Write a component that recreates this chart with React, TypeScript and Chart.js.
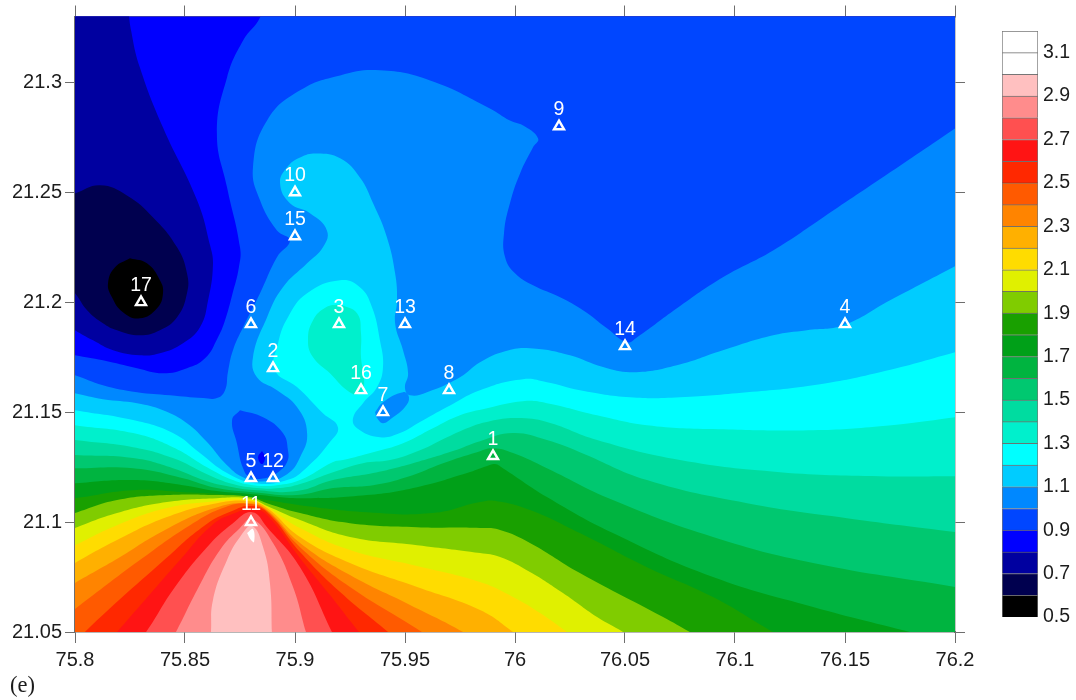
import React, { useEffect, useRef } from "react";
import { Chart, registerables } from "chart.js";

Chart.register(...registerables);

type Pt = [number, number];

const xTicks = [75.8, 75.85, 75.9, 75.95, 76, 76.05, 76.1, 76.15, 76.2];
const yTicks = [21.05, 21.1, 21.15, 21.2, 21.25, 21.3];
const legendTicks = [0.5, 0.7, 0.9, 1.1, 1.3, 1.5, 1.7, 1.9, 2.1, 2.3, 2.5, 2.7, 2.9, 3.1];

const stationIds = ["1", "2", "3", "4", "5", "6", "7", "8", "9", "10", "11", "12", "13", "14", "15", "16", "17"];
const stationLon = [75.99, 75.89, 75.92, 76.15, 75.88, 75.88, 75.94, 75.97, 76.02, 75.9, 75.88, 75.89, 75.95, 76.05, 75.9, 75.93, 75.83];
const stationLat = [21.13, 21.17, 21.19, 21.19, 21.12, 21.19, 21.15, 21.16, 21.28, 21.25, 21.1, 21.12, 21.19, 21.18, 21.23, 21.16, 21.2];

// colour of each 0.1 class, lowest (0.5–0.6) to highest (3.1–3.2)
const classColors = [
  "#000000", "#00004f", "#0000a0", "#0000ff", "#0046ff", "#0088ff", "#00ccff", "#00ffff", "#00f0cc",
  "#00dca0", "#00c870", "#00b440", "#00a018", "#19a000", "#80cc00", "#e0f000", "#ffdc00", "#ffb000",
  "#ff8400", "#ff5a00", "#ff2800", "#ff1414", "#ff5050", "#ff8c8c", "#ffc0c0", "#ffffff", "#ffffff",
];
const classFloors = [0.5, 0.6, 0.7, 0.8, 0.9, 1.0, 1.1, 1.2, 1.3, 1.4, 1.5, 1.6, 1.7, 1.8, 1.9, 2.0, 2.1, 2.2, 2.3, 2.4, 2.5, 2.6, 2.7, 2.8, 2.9, 3.0, 3.1];

const lowerRight: Pt = [76.2068, 21.0418];
const lowerLeft: Pt = [75.7932, 21.0418];

const wholeField: Pt[] = [[75.78, 21.03], [76.22, 21.03], [76.22, 21.35], [75.78, 21.35]];

const below08: Pt[] = [[75.8241, 21.335], [75.8255, 21.3236], [75.8295, 21.3068], [75.84, 21.2795], [75.8555, 21.2464], [75.8614, 21.2259], [75.8627, 21.2168], [75.8605, 21.2009], [75.8568, 21.1886], [75.8491, 21.1814], [75.8386, 21.1768], [75.8295, 21.1759], [75.8173, 21.1782], [75.8082, 21.1827], [75.8, 21.1873], [75.7932, 21.1918], [75.784, 21.2464], [75.784, 21.335]];
const below07: Pt[] = [[75.7932, 21.2473], [75.8, 21.2495], [75.8114, 21.2532], [75.8236, 21.2486], [75.8355, 21.2386], [75.8464, 21.225], [75.8509, 21.2132], [75.8509, 21.2041], [75.8464, 21.1932], [75.8386, 21.1873], [75.8295, 21.185], [75.8191, 21.1873], [75.8127, 21.1905], [75.8055, 21.1964], [75.8, 21.2041], [75.7932, 21.2109]];
const below06: Pt[] = [[75.825, 21.22], [75.8327, 21.2177], [75.8386, 21.21], [75.84, 21.2041], [75.8373, 21.1973], [75.8295, 21.1927], [75.8218, 21.1955], [75.8168, 21.2023], [75.815, 21.2086], [75.8182, 21.2159], [75.825, 21.22]];

const above09: Pt[] = [[75.8841, 21.335], [75.8841, 21.3295], [75.8764, 21.3191], [75.8691, 21.3023], [75.8645, 21.2768], [75.8691, 21.2523], [75.875, 21.225], [75.8745, 21.2159], [75.8714, 21.2032], [75.8682, 21.1918], [75.865, 21.1841], [75.8591, 21.1745], [75.8509, 21.17], [75.84, 21.1677], [75.8282, 21.17], [75.8127, 21.1736], [75.8, 21.1759], [75.7932, 21.1777], lowerLeft, lowerRight, [76.2068, 21.335]];
const above10: Pt[] = [[75.7932, 21.1686], [75.8, 21.1668], [75.8127, 21.1623], [75.8282, 21.1591], [75.8432, 21.1577], [75.8582, 21.1564], [75.8645, 21.1564], [75.8682, 21.16], [75.8695, 21.1682], [75.8718, 21.1782], [75.8764, 21.1886], [75.8841, 21.2041], [75.8918, 21.2205], [75.8977, 21.2282], [75.8918, 21.2327], [75.8841, 21.2464], [75.8809, 21.2614], [75.8873, 21.2827], [75.9023, 21.2964], [75.9205, 21.3032], [75.9386, 21.3055], [75.9614, 21.3009], [75.9886, 21.2882], [75.9977, 21.2827], [76.0045, 21.28], [76.0105, 21.2745], [76.0082, 21.2705], [76.0023, 21.2586], [75.9977, 21.245], [75.995, 21.2314], [75.9955, 21.2205], [76.0, 21.2132], [76.0082, 21.2077], [76.0205, 21.2023], [76.0309, 21.1964], [76.0418, 21.1882], [76.0509, 21.1818], [76.0555, 21.1841], [76.0736, 21.1973], [76.0945, 21.2114], [76.1173, 21.2236], [76.14, 21.2386], [76.1705, 21.2591], [76.2, 21.2791], [76.2068, 21.2836], lowerRight, lowerLeft];
const above11: Pt[] = [[75.7932, 21.16], [75.8, 21.1586], [75.8127, 21.1559], [75.8282, 21.1541], [75.84, 21.1509], [75.8509, 21.145], [75.86, 21.1364], [75.8691, 21.1259], [75.8773, 21.12], [75.8864, 21.1186], [75.8964, 21.1218], [75.9023, 21.1295], [75.9055, 21.1405], [75.9009, 21.1523], [75.8918, 21.16], [75.8827, 21.1659], [75.8809, 21.175], [75.8873, 21.1932], [75.8945, 21.2068], [75.9055, 21.2177], [75.9127, 21.225], [75.9145, 21.2327], [75.9068, 21.2405], [75.8977, 21.245], [75.8932, 21.2541], [75.8964, 21.2614], [75.9023, 21.2659], [75.91, 21.2677], [75.9205, 21.2655], [75.9295, 21.2568], [75.9355, 21.245], [75.9418, 21.2295], [75.9455, 21.2132], [75.9464, 21.2009], [75.9455, 21.1905], [75.9491, 21.1782], [75.9514, 21.1677], [75.95, 21.1609], [75.9523, 21.1577], [75.96, 21.1591], [75.975, 21.1659], [75.9841, 21.1727], [75.9955, 21.1777], [76.0068, 21.1791], [76.025, 21.1759], [76.04, 21.1705], [76.0536, 21.1682], [76.0736, 21.1714], [76.0945, 21.1782], [76.1173, 21.185], [76.1327, 21.1873], [76.1491, 21.1895], [76.1705, 21.2009], [76.2, 21.2164], [76.2068, 21.22], lowerRight, lowerLeft];
const lowPatch10: Pt[] = [[75.875, 21.1509], [75.8855, 21.1477], [75.8945, 21.1405], [75.8968, 21.1327], [75.8964, 21.1273], [75.8923, 21.1227], [75.8864, 21.12], [75.8795, 21.1205], [75.8764, 21.1245], [75.8736, 21.1359], [75.8714, 21.1464], [75.875, 21.1509]];
const lowSpot09: Pt[] = [[75.885, 21.1323], [75.8864, 21.1295], [75.885, 21.1264], [75.8832, 21.1295], [75.885, 21.1323]];
const lowPatch11: Pt[] = [[75.9364, 21.15], [75.94, 21.1545], [75.9491, 21.1591], [75.9518, 21.1568], [75.95, 21.1523], [75.9441, 21.1473], [75.94, 21.145], [75.9373, 21.1473], [75.9364, 21.15]];
const above12: Pt[] = [[75.7932, 21.1523], [75.8, 21.1509], [75.8264, 21.1464], [75.8445, 21.1405], [75.8568, 21.1314], [75.8691, 21.1223], [75.8818, 21.1177], [75.8964, 21.1191], [75.9055, 21.125], [75.9159, 21.1364], [75.9195, 21.1432], [75.9127, 21.1495], [75.9009, 21.1614], [75.8909, 21.1691], [75.8923, 21.1814], [75.8968, 21.1932], [75.9055, 21.2041], [75.9205, 21.21], [75.9295, 21.2068], [75.935, 21.1977], [75.9386, 21.1827], [75.94, 21.1705], [75.9373, 21.1614], [75.9309, 21.1541], [75.9264, 21.1473], [75.9282, 21.1427], [75.9386, 21.1386], [75.9477, 21.1405], [75.9568, 21.1455], [75.9691, 21.1523], [75.9841, 21.16], [76.0036, 21.165], [76.0145, 21.1636], [76.0295, 21.16], [76.0523, 21.1568], [76.075, 21.1568], [76.1055, 21.1591], [76.1355, 21.1623], [76.1659, 21.1682], [76.2, 21.1773], [76.2068, 21.1795], lowerRight, lowerLeft];
const lobe13: Pt[] = [[75.9205, 21.1991], [75.9282, 21.195], [75.93, 21.1859], [75.93, 21.175], [75.9314, 21.1623], [75.9286, 21.1582], [75.9236, 21.16], [75.9159, 21.1677], [75.9082, 21.175], [75.9059, 21.1827], [75.9082, 21.1918], [75.9141, 21.1977], [75.9205, 21.1991]];
const above13: Pt[] = [[75.7932, 21.1455], [75.8, 21.1441], [75.8264, 21.1405], [75.8445, 21.1341], [75.86, 21.125], [75.8718, 21.1191], [75.8809, 21.1168], [75.8918, 21.1168], [75.9023, 21.1191], [75.9173, 21.1273], [75.9218, 21.1282], [75.9355, 21.1318], [75.9491, 21.1359], [75.9627, 21.1427], [75.975, 21.1486], [75.9873, 21.1518], [76.0036, 21.155], [76.0145, 21.1541], [76.0373, 21.1486], [76.06, 21.1441], [76.09, 21.1423], [76.1355, 21.1418], [76.1659, 21.1436], [76.2, 21.1477], [76.2068, 21.1491], lowerRight, lowerLeft];
const above14: Pt[] = [[75.7932, 21.1386], [75.8, 21.1373], [75.8264, 21.1341], [75.8445, 21.1291], [75.86, 21.1218], [75.8718, 21.1173], [75.8827, 21.1155], [75.8932, 21.1155], [75.9023, 21.1173], [75.9173, 21.1227], [75.9309, 21.1268], [75.9432, 21.1282], [75.9568, 21.1327], [75.9691, 21.1386], [75.9795, 21.1432], [75.9886, 21.1459], [76.0009, 21.1473], [76.0145, 21.1455], [76.0373, 21.1373], [76.075, 21.1282], [76.1205, 21.1227], [76.1659, 21.1209], [76.2, 21.1209], [76.2068, 21.1209], lowerRight, lowerLeft];
const above15: Pt[] = [[75.7932, 21.1309], [75.8, 21.1305], [75.8264, 21.1291], [75.8445, 21.1245], [75.86, 21.1186], [75.8718, 21.1159], [75.8827, 21.1145], [75.9009, 21.1141], [75.9173, 21.1191], [75.9355, 21.1223], [75.9536, 21.1268], [75.9718, 21.1323], [75.9841, 21.1368], [75.9991, 21.1405], [76.0145, 21.1373], [76.0295, 21.1318], [76.06, 21.1191], [76.1055, 21.1086], [76.1509, 21.1018], [76.2, 21.0955], [76.2068, 21.0945], lowerRight, lowerLeft];
const above16: Pt[] = [[75.7932, 21.1245], [75.8, 21.1245], [75.8264, 21.1245], [75.8491, 21.12], [75.8645, 21.1155], [75.8809, 21.1136], [75.9009, 21.1123], [75.9173, 21.1155], [75.9355, 21.1168], [75.9509, 21.1205], [75.9673, 21.1268], [75.9827, 21.1318], [75.99, 21.1336], [75.9991, 21.1314], [76.0145, 21.1245], [76.0445, 21.11], [76.09, 21.0932], [76.1355, 21.0814], [76.2, 21.0705], [76.2068, 21.0691], lowerRight, lowerLeft];
const above17: Pt[] = [[75.7932, 21.1173], [75.8, 21.1177], [75.8264, 21.1191], [75.8491, 21.1168], [75.8645, 21.1141], [75.8809, 21.1127], [75.9023, 21.1109], [75.9327, 21.1123], [75.9555, 21.1159], [75.9782, 21.1223], [75.9873, 21.1255], [75.9909, 21.1264], [75.9945, 21.1245], [76.0145, 21.1114], [76.0445, 21.095], [76.09, 21.075], [76.1355, 21.0614], [76.1795, 21.05], [76.2023, 21.0441], lowerLeft];
const above18: Pt[] = [[75.7932, 21.1105], [75.8, 21.1109], [75.8264, 21.1145], [75.8491, 21.1136], [75.8718, 21.1123], [75.8873, 21.11], [75.9023, 21.1077], [75.9327, 21.1045], [75.9627, 21.1041], [75.9841, 21.1091], [75.9918, 21.1095], [76.0068, 21.1055], [76.0295, 21.095], [76.06, 21.0795], [76.09, 21.0659], [76.1173, 21.05], [76.134, 21.041], lowerLeft];
const above19: Pt[] = [[75.7932, 21.1018], [75.8, 21.1041], [75.8191, 21.11], [75.8418, 21.1123], [75.8645, 21.1123], [75.8795, 21.1114], [75.8873, 21.1086], [75.9023, 21.1041], [75.925, 21.0995], [75.9555, 21.0977], [75.9841, 21.0973], [75.9932, 21.0964], [76.0068, 21.0905], [76.0295, 21.0768], [76.0673, 21.0568], [76.0795, 21.05], [76.094, 21.0418], lowerLeft];
const above20: Pt[] = [[75.7932, 21.0945], [75.8, 21.0973], [75.8191, 21.1041], [75.8418, 21.1091], [75.8645, 21.1109], [75.8795, 21.1107], [75.8873, 21.1073], [75.9023, 21.1009], [75.925, 21.0932], [75.9555, 21.0895], [75.9841, 21.0859], [75.9932, 21.0841], [76.0068, 21.0773], [76.0218, 21.0677], [76.0373, 21.0568], [76.0491, 21.05], [76.0614, 21.0418], lowerLeft];
const above21: Pt[] = [[75.7932, 21.0864], [75.8, 21.0895], [75.8191, 21.0986], [75.8418, 21.1064], [75.8645, 21.1095], [75.8795, 21.11], [75.8873, 21.1068], [75.9023, 21.0973], [75.925, 21.0873], [75.9555, 21.08], [75.9841, 21.0727], [75.9991, 21.0659], [76.0114, 21.0586], [76.0236, 21.05], [76.034, 21.0427], lowerLeft];
const above22: Pt[] = [[75.7932, 21.0773], [75.8, 21.0814], [75.8191, 21.0918], [75.8418, 21.1023], [75.8645, 21.1086], [75.8795, 21.1095], [75.8873, 21.1064], [75.9023, 21.0932], [75.925, 21.0814], [75.9555, 21.0705], [75.9841, 21.06], [75.9991, 21.05], [76.009, 21.0418], lowerLeft];
const above23: Pt[] = [[75.7932, 21.0682], [75.8, 21.0723], [75.8182, 21.0827], [75.8409, 21.0964], [75.8636, 21.1064], [75.8795, 21.1086], [75.8873, 21.1055], [75.9023, 21.0905], [75.925, 21.0759], [75.9523, 21.0623], [75.9764, 21.05], [75.9886, 21.0418], lowerLeft];
const above24: Pt[] = [[75.7932, 21.0555], [75.8, 21.0605], [75.8295, 21.0827], [75.8523, 21.0986], [75.8682, 21.1068], [75.8795, 21.1082], [75.8873, 21.105], [75.9023, 21.0886], [75.925, 21.0705], [75.9577, 21.05], [75.9682, 21.0418], lowerLeft];
const above25: Pt[] = [[75.7977, 21.0418], [75.8045, 21.05], [75.8405, 21.0827], [75.8591, 21.0986], [75.8714, 21.105], [75.8795, 21.1073], [75.8873, 21.1045], [75.9023, 21.0864], [75.9205, 21.0682], [75.9423, 21.05], [75.9514, 21.0418]];
const above26: Pt[] = [[75.8114, 21.0418], [75.8191, 21.05], [75.8477, 21.0827], [75.8623, 21.0986], [75.8727, 21.1041], [75.8805, 21.1059], [75.8873, 21.1032], [75.9023, 21.0836], [75.9159, 21.0668], [75.9291, 21.05], [75.9364, 21.0418]];
const above27: Pt[] = [[75.825, 21.0418], [75.8323, 21.05], [75.8445, 21.0691], [75.86, 21.0886], [75.8718, 21.0995], [75.8805, 21.1045], [75.8873, 21.0977], [75.9023, 21.0795], [75.9168, 21.05], [75.9205, 21.0418]];
const above28: Pt[] = [[75.8409, 21.0418], [75.8459, 21.05], [75.8555, 21.0691], [75.8659, 21.0873], [75.875, 21.0973], [75.8805, 21.1014], [75.89, 21.0905], [75.8991, 21.0705], [75.905, 21.05], [75.9077, 21.0418]];
const above29: Pt[] = [[75.8614, 21.0418], [75.8618, 21.05], [75.8627, 21.0645], [75.8691, 21.0827], [75.875, 21.0932], [75.8805, 21.0982], [75.8855, 21.0886], [75.8886, 21.0723], [75.8895, 21.05], [75.8895, 21.0418]];
const above30: Pt[] = [[75.8782, 21.095], [75.8809, 21.0968], [75.8814, 21.0909], [75.88, 21.0918], [75.8782, 21.095]];

// painted in this order, later layers over earlier ones: [outline, class floor]
const layers: [Pt[], number][] = [
  [wholeField, 0.8], [below08, 0.7], [below07, 0.6], [below06, 0.5],
  [above09, 0.9], [above10, 1.0], [lowPatch10, 0.9], [lowSpot09, 0.8], [above11, 1.1], [lowPatch11, 1.0],
  [above12, 1.2], [lobe13, 1.3], [above13, 1.3], [above14, 1.4], [above15, 1.5], [above16, 1.6], [above17, 1.7],
  [above18, 1.8], [above19, 1.9], [above20, 2.0], [above21, 2.1], [above22, 2.2], [above23, 2.3], [above24, 2.4],
  [above25, 2.5], [above26, 2.6], [above27, 2.7], [above28, 2.8], [above29, 2.9], [above30, 3.0],
];

const SANS = '"Liberation Sans", Arial, sans-serif';
const INK = "#1c1c1c";
const AXIS = "#6e6e6e";

const colorOf = (floor: number) => classColors[classFloors.findIndex((f) => Math.abs(f - floor) < 1e-6)];
const trim = (v: number) => String(Number(Number(v).toFixed(2)));

const stationLabels = {
  id: "stationLabels",
  afterDatasetsDraw(chart: any) {
    const meta = chart.getDatasetMeta(0);
    const { ctx } = chart;
    ctx.save();
    ctx.fillStyle = "#ffffff";
    ctx.font = `19.5px ${SANS}`;
    ctx.textAlign = "center";
    ctx.textBaseline = "middle";
    meta.data.forEach((pt: any, i: number) => ctx.fillText(stationIds[i], pt.x, pt.y - 17));
    ctx.restore();
  },
};

export default function App() {
  const mainRef = useRef<HTMLCanvasElement>(null);
  const legendRef = useRef<HTMLCanvasElement>(null);

  useEffect(() => {
    const hidden = { display: false };
    const axisBorder = { display: true, color: AXIS, width: 1.4 };
    const tickFont = { family: SANS, size: 20 };
    const grid = (tickLength: number) => ({ display: true, drawOnChartArea: false, drawTicks: true, tickLength, tickColor: AXIS, tickWidth: 1 });
    const fixed = (values: number[]) => (scale: any) => {
      scale.ticks = values.map((value) => ({ value }));
    };

    const main = new Chart(mainRef.current as HTMLCanvasElement, {
      type: "scatter",
      data: {
        datasets: [
          {
            label: "stations",
            data: stationLon.map((x, i) => ({ x, y: stationLat[i] })),
            showLine: false,
            pointStyle: "triangle",
            pointRadius: 5.8,
            pointBorderWidth: 2.4,
            pointBorderColor: "#ffffff",
            pointBackgroundColor: "rgba(0,0,0,0)",
            order: 0,
          } as any,
          ...layers.map(([outline, floor], i) => ({
            label: `band ${floor}`,
            data: outline.map(([x, y]) => ({ x, y })),
            showLine: true,
            fill: "shape",
            backgroundColor: colorOf(floor),
            borderWidth: 0,
            borderColor: "rgba(0,0,0,0)",
            pointRadius: 0,
            tension: outline === wholeField ? 0 : 0.45,
            order: 1000 - i,
          })),
        ],
      },
      options: {
        animation: false,
        responsive: false,
        events: [],
        layout: { padding: { left: 0, right: 110, top: 5.5, bottom: 28 } },
        plugins: { legend: hidden, tooltip: { enabled: false } },
        scales: {
          x: {
            type: "linear",
            position: "bottom",
            min: 75.8,
            max: 76.2,
            afterBuildTicks: fixed(xTicks),
            afterFit: (s: any) => { s.height = 40; },
            border: axisBorder,
            grid: grid(11),
            ticks: { font: tickFont, color: INK, padding: 5, maxRotation: 0, autoSkip: false, callback: (v: any) => trim(v) },
          },
          y: {
            type: "linear",
            position: "left",
            min: 21.05,
            max: 21.33,
            afterBuildTicks: fixed(yTicks),
            afterFit: (s: any) => { s.width = 75; },
            border: axisBorder,
            grid: grid(10),
            ticks: { font: tickFont, color: INK, padding: 3, autoSkip: false, callback: (v: any) => trim(v) },
          },
          x2: {
            type: "linear",
            position: "top",
            min: 75.8,
            max: 76.2,
            afterBuildTicks: fixed(xTicks),
            afterFit: (s: any) => { s.height = 11; },
            border: axisBorder,
            grid: grid(11),
            ticks: { display: false },
          },
          y2: {
            type: "linear",
            position: "right",
            min: 21.05,
            max: 21.33,
            afterBuildTicks: fixed(yTicks),
            afterFit: (s: any) => { s.width = 11; },
            border: axisBorder,
            grid: grid(10),
            ticks: { display: false },
          },
        } as any,
      },
      plugins: [stationLabels],
    } as any);

    const legend = new Chart(legendRef.current as HTMLCanvasElement, {
      type: "bar",
      data: {
        labels: ["classes"],
        datasets: classFloors.map((floor, i) => ({
          label: String(floor),
          data: [[floor, floor + 0.1]],
          backgroundColor: classColors[i],
          borderColor: "rgba(60,60,60,0.7)",
          borderWidth: 1,
          grouped: false,
          barPercentage: 1,
          categoryPercentage: 1,
        })) as any,
      },
      options: {
        animation: false,
        responsive: false,
        events: [],
        layout: { padding: { left: 12, right: 0, top: 31, bottom: 83 } },
        plugins: { legend: hidden, tooltip: { enabled: false } },
        scales: {
          x: { display: false },
          y: {
            type: "linear",
            position: "right",
            min: 0.5,
            max: 3.2,
            afterBuildTicks: fixed(legendTicks),
            afterFit: (s: any) => { s.width = 38; },
            border: { display: false },
            grid: { display: false, drawTicks: false },
            ticks: { font: { family: SANS, size: 19.5 }, color: INK, padding: 5, autoSkip: false, callback: (v: any) => Number(v).toFixed(1) },
          },
        } as any,
      },
    } as any);

    return () => {
      main.destroy();
      legend.destroy();
    };
  }, []);

  return (
    <div style={{ position: "absolute", left: 0, top: 0, width: 1076, height: 700, background: "#ffffff", overflow: "hidden" }}>
      <canvas ref={mainRef} width={1076} height={700} style={{ position: "absolute", left: 0, top: 0 }} />
      <canvas ref={legendRef} width={86} height={700} style={{ position: "absolute", left: 990, top: 0 }} />
      <div style={{ position: "absolute", left: 10, top: 672, fontFamily: '"Liberation Serif", serif', fontSize: 22.5, color: INK }}>(e)</div>
    </div>
  );
}
